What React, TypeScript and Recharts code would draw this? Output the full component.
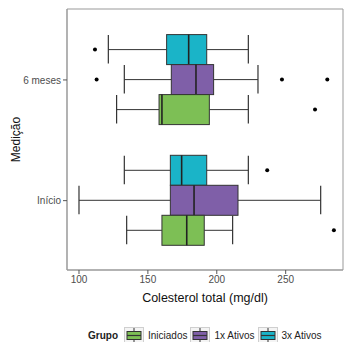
import { Bar, CartesianGrid, ComposedChart, XAxis, YAxis } from "recharts";

// medições (top to bottom) and groups
const medicoes = ["6 meses", "Início"];
const grupos = ["Iniciados", "1x Ativos", "3x Ativos"];
const cores = ["#7dbf55", "#7f5fa8", "#1ab4c8"];

// [whisker low, q1, median, q3, whisker high] for each medição
const iniciadosBox = [
  [127.3, 158.1, 160.2, 194.6, 222.9],
  [134.6, 160.2, 178.2, 190.9, 211.5],
];
const ativos1xBox = [
  [132.9, 167.0, 184.9, 197.7, 229.9],
  [100.0, 166.3, 183.5, 215.4, 275.4],
];
const ativos3xBox = [
  [121.3, 163.6, 179.6, 192.7, 222.9],
  [132.9, 166.3, 174.5, 192.7, 222.9],
];

const iniciadosOut = [[271.3], [285.0]];
const ativos1xOut = [[112.8, 247.3, 280.2], []];
const ativos3xOut = [[111.6], [236.6]];

const xTicks = [100, 150, 200, 250];

const boxes = [iniciadosBox, ativos1xBox, ativos3xBox];
const outs = [iniciadosOut, ativos1xOut, ativos3xOut];

const data = medicoes.map((m, i) => {
  const row: Record<string, unknown> = { medicao: m, boxes: [], outs: [] };
  grupos.forEach((_, g) => {
    const b = boxes[g][i];
    row["g" + g] = [b[0], b[4]];
    (row.boxes as number[][]).push(b);
    (row.outs as number[][]).push(outs[g][i]);
  });
  return row;
});

// draw order top -> bottom inside each band: 3x, 1x, Iniciados
const drawOrder = [2, 1, 0];

function BoxShape(props: any) {
  const { x, y, width, height, payload, g } = props;
  const [lo, q1, med, q3, hi] = payload.boxes[g] as number[];
  const k = width / (hi - lo);
  const px = (v: number) => x + (v - lo) * k;
  const cy = y + height / 2;
  const line = "#333333";
  return (
    <g>
      <line x1={px(lo)} x2={px(q1)} y1={cy} y2={cy} stroke={line} strokeWidth={1} />
      <line x1={px(q3)} x2={px(hi)} y1={cy} y2={cy} stroke={line} strokeWidth={1} />
      <line x1={px(lo)} x2={px(lo)} y1={y + 0.5} y2={y + height - 1} stroke={line} strokeWidth={1.2} />
      <line x1={px(hi)} x2={px(hi)} y1={y + 0.5} y2={y + height - 1} stroke={line} strokeWidth={1.2} />
      <rect x={px(q1)} y={y} width={px(q3) - px(q1)} height={height} fill={cores[g]} stroke={line} strokeWidth={1} />
      <line x1={px(med)} x2={px(med)} y1={y} y2={y + height} stroke="#222" strokeWidth={1.6} />
      {(payload.outs[g] as number[]).map((v, j) => (
        <circle key={j} cx={px(v)} cy={cy} r={2} fill="#000" />
      ))}
    </g>
  );
}

function LegendKey({ color }: { color: string }) {
  return (
    <svg width={20} height={17} style={{ display: "block" }}>
      <rect x={0.5} y={0.5} width={19} height={16} fill="#f4f4f4" stroke="#cfcfcf" />
      <line x1={10} x2={10} y1={1} y2={16} stroke="#333" />
      <rect x={3} y={4.5} width={14} height={8} fill={color} stroke="#333" />
      <line x1={3} x2={17} y1={8.5} y2={8.5} stroke="#333" strokeWidth={1.2} />
    </svg>
  );
}

const font = "'Liberation Sans', Arial, sans-serif";

export default function App() {
  return (
    <div style={{ position: "absolute", left: 0, top: 0, width: 346, height: 342, background: "#fff", fontFamily: font }}>
      <ComposedChart
        width={346}
        height={342}
        data={data}
        layout="vertical"
        margin={{ top: 9, right: 3, left: 0, bottom: 0 }}
        barGap={0}
        barSize={30}
      >
        {/* panel border */}
        <CartesianGrid
          stroke="#999"
          horizontalCoordinatesGenerator={({ offset }: any) => [offset.top, offset.top + offset.height]}
          verticalCoordinatesGenerator={({ offset }: any) => [offset.left, offset.left + offset.width]}
        />
        <XAxis
          type="number"
          domain={[91.3, 291.6]}
          ticks={xTicks}
          height={72}
          tickSize={4}
          tick={{ fill: "#4d4d4d", fontSize: 10, fontFamily: font }}
          tickLine={{ stroke: "#555" }}
          axisLine={{ stroke: "#999" }}
          label={{
            content: (p: any) => {
              const vb = p.viewBox;
              return (
                <text x={vb.x + vb.width / 2} y={298} textAnchor="middle" dominantBaseline="central" fontSize={12.5} fill="#111" fontFamily={font}>
                  Colesterol total (mg/dl)
                </text>
              );
            },
          }}
        />
        <YAxis
          type="category"
          dataKey="medicao"
          width={67}
          tickSize={4}
          padding={{ top: 10.6, bottom: 9 }}
          tick={{ fill: "#4d4d4d", fontSize: 10, fontFamily: font }}
          tickLine={{ stroke: "#555" }}
          axisLine={{ stroke: "#999" }}
          label={{
            content: (p: any) => {
              const vb = p.viewBox;
              const cy = vb.y + vb.height / 2;
              return (
                <text x={16} y={cy} transform={`rotate(-90 16 ${cy})`} textAnchor="middle" dominantBaseline="central" fontSize={12} fill="#111" fontFamily={font}>
                  Medição
                </text>
              );
            },
          }}
        />
        {drawOrder.map((g) => (
          <Bar
            key={g}
            dataKey={"g" + g}
            isAnimationActive={false}
            shape={(p: any) => <BoxShape {...p} g={g} />}
          />
        ))}
      </ComposedChart>
      <div
        style={{
          position: "absolute",
          left: 88,
          top: 327,
          display: "flex",
          alignItems: "center",
          fontSize: 10,
          color: "#222",
        }}
      >
        <span style={{ fontWeight: "bold", marginRight: 6 }}>Grupo</span>
        {grupos.map((gr, g) => (
          <div key={gr} style={{ display: "flex", alignItems: "center", marginRight: 3 }}>
            <LegendKey color={cores[g]} />
            <span style={{ marginLeft: 4 }}>{gr}</span>
          </div>
        ))}
      </div>
    </div>
  );
}
